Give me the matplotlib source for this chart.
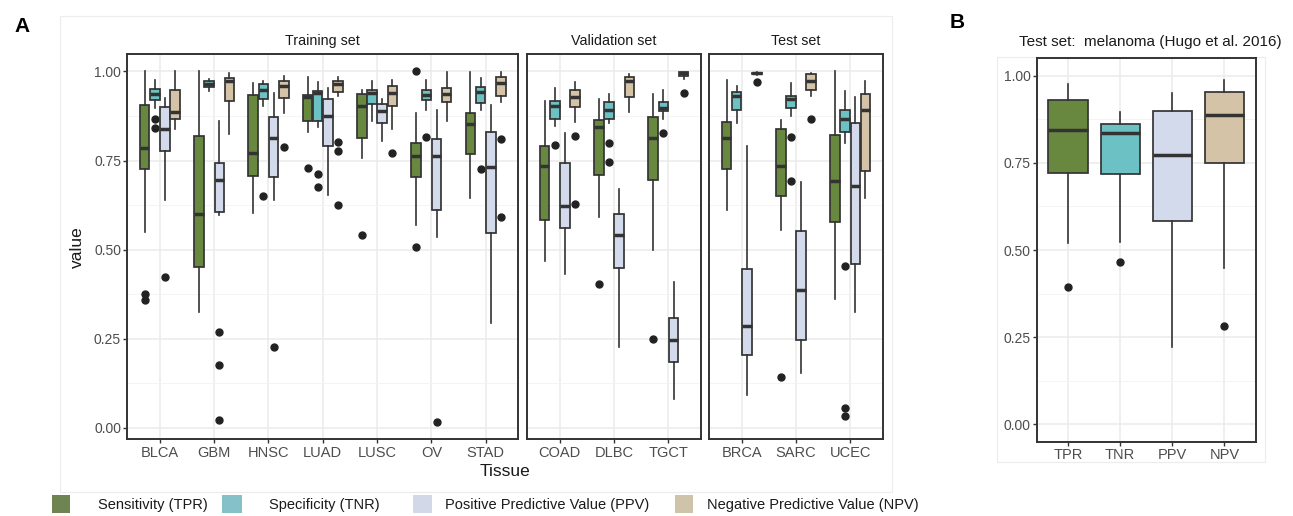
import matplotlib
matplotlib.use("Agg")
import matplotlib.pyplot as plt
from matplotlib.patches import Rectangle

plt.rcParams['font.family'] = ['Liberation Sans', 'DejaVu Sans']

# ---------------- data (panel A) ----------------
tissues = ["BLCA", "GBM", "HNSC", "LUAD", "LUSC", "OV", "STAD",
           "COAD", "DLBC", "TGCT", "BRCA", "SARC", "UCEC"]
panel_names = ["Training set", "Validation set", "Test set"]
panel_members = [["BLCA", "GBM", "HNSC", "LUAD", "LUSC", "OV", "STAD"],
                 ["COAD", "DLBC", "TGCT"],
                 ["BRCA", "SARC", "UCEC"]]
metrics = ["TPR", "TNR", "PPV", "NPV"]
legend_labels = ["Sensitivity (TPR)", "Specificity (TNR)",
                 "Positive Predictive Value (PPV)", "Negative Predictive Value (NPV)"]

# Sensitivity (TPR)
tpr_low = [.551, .324, .602, .831, .757, .569, .646, .469, .593, .500, .610, .556, .361]
tpr_q1 = [.727, .452, .707, .860, .813, .703, .769, .584, .709, .696, .725, .652, .578]
tpr_med = [.785, .600, .771, .928, .904, .764, .853, .736, .843, .813, .812, .736, .694]
tpr_q3 = [.906, .819, .933, .934, .936, .799, .883, .790, .863, .872, .859, .838, .821]
tpr_high = [1.0, 1.0, .967, .984, .947, .883, .998, .918, .923, .937, .977, .864, 1.0]
tpr_out = [[.377, .359], [], [], [.730], [.540], [1.0, .508], [], [], [.404], [.249], [], [.144], []]

# Specificity (TNR)
tnr_low = [.897, .944, .904, .844, .860, .892, .892, .846, .856, .867, .856, .875, .800]
tnr_q1 = [.920, .956, .922, .860, .908, .919, .911, .867, .867, .888, .892, .897, .830]
tnr_med = [.936, .964, .948, .939, .939, .933, .942, .903, .893, .898, .930, .922, .866]
tnr_q3 = [.951, .974, .964, .944, .947, .948, .956, .917, .914, .914, .941, .930, .892]
tnr_high = [.975, .978, .972, .970, .972, .975, .983, .954, .938, .949, .960, .969, .944]
tnr_out = [[.867, .841], [], [.652], [.713, .677], [], [.815], [.727], [.793], [.798, .746],
           [.826], [], [.816, .694], [.453, .056, .033]]

# Positive predictive value (PPV)
ppv_low = [.640, .596, .638, .654, .806, .535, .293, .431, .228, .080, .092, .155, .326]
ppv_q1 = [.776, .605, .703, .791, .855, .611, .546, .560, .450, .184, .205, .247, .460]
ppv_med = [.839, .696, .812, .875, .890, .764, .733, .623, .542, .246, .287, .386, .680]
ppv_q3 = [.900, .743, .872, .923, .909, .810, .829, .743, .601, .307, .446, .553, .856]
ppv_high = [.925, .862, .939, .953, .922, .892, .906, .826, .671, .410, .791, .690, .929]
ppv_out = [[.424], [.268, .177, .023], [.228], [], [], [.017], [], [], [], [], [], [], []]

# Negative predictive value (NPV)
npv_low = [.838, .824, .883, .930, .839, .862, .914, .858, .887, .979, .990, .932, .645]
npv_q1 = [.866, .918, .925, .942, .904, .914, .932, .901, .928, .987, .992, .948, .720]
npv_med = [.885, .974, .958, .964, .939, .936, .967, .928, .973, .996, .995, .972, .891]
npv_q3 = [.947, .981, .974, .972, .960, .955, .984, .949, .984, .998, .997, .994, .936]
npv_high = [1.0, .997, .986, .984, .977, .998, .998, .970, .992, .999, .999, .995, .972]
npv_out = [[], [], [.787], [.803, .777, .625], [.771], [], [.810, .593], [.818, .628], [],
           [.940], [.971], [.866], []]

# ---------------- data (panel B: melanoma) ----------------
b_title = "Test set:  melanoma (Hugo et al. 2016)"
b_low = [.519, .522, .223, .449]
b_q1 = [.722, .717, .583, .750]
b_med = [.844, .837, .772, .887]
b_q3 = [.930, .861, .899, .953]
b_high = [.976, .895, .951, .988]
b_out = [[.395], [.467], [], [.283]]

yticks = [0.0, 0.25, 0.50, 0.75, 1.00]
ytick_labels = ["0.00", "0.25", "0.50", "0.75", "1.00"]

# ---------------- style ----------------
fill_cols = ["#68883F", "#6CC1C5", "#D3DAEB", "#D4C3A7"]
legend_cols = ["#6E8551", "#84C1C8", "#D3D8E8", "#CFC3A9"]
edge = "#333333"

metric_stats = [
    (tpr_low, tpr_q1, tpr_med, tpr_q3, tpr_high, tpr_out),
    (tnr_low, tnr_q1, tnr_med, tnr_q3, tnr_high, tnr_out),
    (ppv_low, ppv_q1, ppv_med, ppv_q3, ppv_high, ppv_out),
    (npv_low, npv_q1, npv_med, npv_q3, npv_high, npv_out),
]

W, H = 1293, 516
fig = plt.figure(figsize=(W / 100, H / 100), dpi=100)


def add_ax(x0, x1, y0, y1):
    return fig.add_axes([x0 / W, 1 - y1 / H, (x1 - x0) / W, (y1 - y0) / H])


def style_ax(ax, ncat, show_y, ylim):
    ax.set_facecolor("white")
    for s in ax.spines.values():
        s.set_color(edge)
        s.set_linewidth(1.4)
    ax.set_xlim(0.4, ncat + 0.6)
    ax.set_ylim(*ylim)
    ax.set_yticks(yticks)
    ax.set_yticks([0.125, 0.375, 0.625, 0.875], minor=True)
    ax.set_xticks(range(1, ncat + 1))
    ax.grid(which="major", color="#EBEBEB", linewidth=1.1)
    ax.grid(which="minor", axis="y", color="#F3F3F3", linewidth=0.6)
    ax.set_axisbelow(True)
    ax.tick_params(which="major", length=3, width=1.0, color=edge,
                   labelcolor="#4D4D4D", labelsize=10.5, pad=1.5)
    ax.tick_params(which="minor", length=0)
    if show_y:
        ax.set_yticklabels(ytick_labels, fontsize=10)
    else:
        ax.tick_params(axis="y", length=0, labelleft=False)


def draw_boxes(ax, stats, positions, width, col):
    ax.bxp(stats, positions=positions, widths=width, patch_artist=True,
           showcaps=False, manage_ticks=False,
           boxprops=dict(facecolor=col, edgecolor=edge, linewidth=1.25),
           medianprops=dict(color=edge, linewidth=2.5, solid_capstyle="butt"),
           whiskerprops=dict(color=edge, linewidth=1.2),
           flierprops=dict(marker="o", markerfacecolor="#222222",
                           markeredgecolor="#222222", markersize=5))


# ---------------- panel A ----------------
panel_px = [(127.3, 518.3), (527.3, 701.0), (709.3, 882.7)]
ytop, ybot = 54.0, 439.3
ylimA = (-0.032, 1.049)
offsets = [-0.28125, -0.09375, 0.09375, 0.28125]

for p, (x0, x1) in enumerate(panel_px):
    ax = add_ax(x0, x1, ytop, ybot)
    members = panel_members[p]
    style_ax(ax, len(members), p == 0, ylimA)
    ax.set_xticklabels(members)
    for m in range(4):
        lo, q1, me, q3, hi, out = metric_stats[m]
        stats, pos = [], []
        for i, t in enumerate(members):
            k = tissues.index(t)
            stats.append(dict(whislo=lo[k], q1=q1[k], med=me[k], q3=q3[k],
                              whishi=hi[k], fliers=out[k]))
            pos.append(i + 1 + offsets[m])
        draw_boxes(ax, stats, pos, 0.175, fill_cols[m])
    fig.text((x0 + x1) / 2 / W, 1 - 40.7 / H, panel_names[p], ha="center",
             va="center", fontsize=10.3, color="#1A1A1A")

fig.text(77 / W, 1 - 247 / H, "value", rotation=90, ha="center", va="center",
         fontsize=12.5, color="#1A1A1A")
fig.text(505 / W, 1 - 471 / H, "Tissue", ha="center", va="center",
         fontsize=12.5, color="#1A1A1A")

# faint plot background borders
fig.add_artist(Rectangle((60 / W, 1 - 492 / H), (892 - 60) / W, (492 - 16) / H,
                         transform=fig.transFigure, fill=False,
                         edgecolor="#ECECEC", linewidth=0.8, zorder=-1))
fig.add_artist(Rectangle((997 / W, 1 - 462 / H), (1265 - 997) / W, (462 - 57) / H,
                         transform=fig.transFigure, fill=False,
                         edgecolor="#ECECEC", linewidth=0.8, zorder=-1))

# legend
leg_px = [(52, 18, 98), (222, 20, 269), (413, 19, 445), (675, 18, 707)]
for m, (px, pw, tx) in enumerate(leg_px):
    fig.add_artist(Rectangle((px / W, 1 - 513 / H), pw / W, 18 / H,
                             transform=fig.transFigure, facecolor=legend_cols[m],
                             edgecolor="none"))
    fig.text(tx / W, 1 - 504.5 / H, legend_labels[m], ha="left", va="center",
             fontsize=10.5, color="#1A1A1A")

# ---------------- panel B ----------------
axb = add_ax(1036.7, 1255.7, 58.3, 441.7)
style_ax(axb, 4, True, (-0.05, 1.05))
axb.set_xticklabels(metrics)
for m in range(4):
    st = [dict(whislo=b_low[m], q1=b_q1[m], med=b_med[m], q3=b_q3[m],
               whishi=b_high[m], fliers=b_out[m])]
    draw_boxes(axb, st, [m + 1], 0.75, fill_cols[m])
fig.text(1019 / W, 1 - 42 / H, b_title, ha="left", va="center",
         fontsize=11, color="#1A1A1A")

fig.text(22 / W, 1 - 26 / H, "A", ha="center", va="center", fontsize=15,
         fontweight="bold")
fig.text(957 / W, 1 - 23 / H, "B", ha="center", va="center", fontsize=15,
         fontweight="bold")

fig.savefig("out.png", dpi=100)
